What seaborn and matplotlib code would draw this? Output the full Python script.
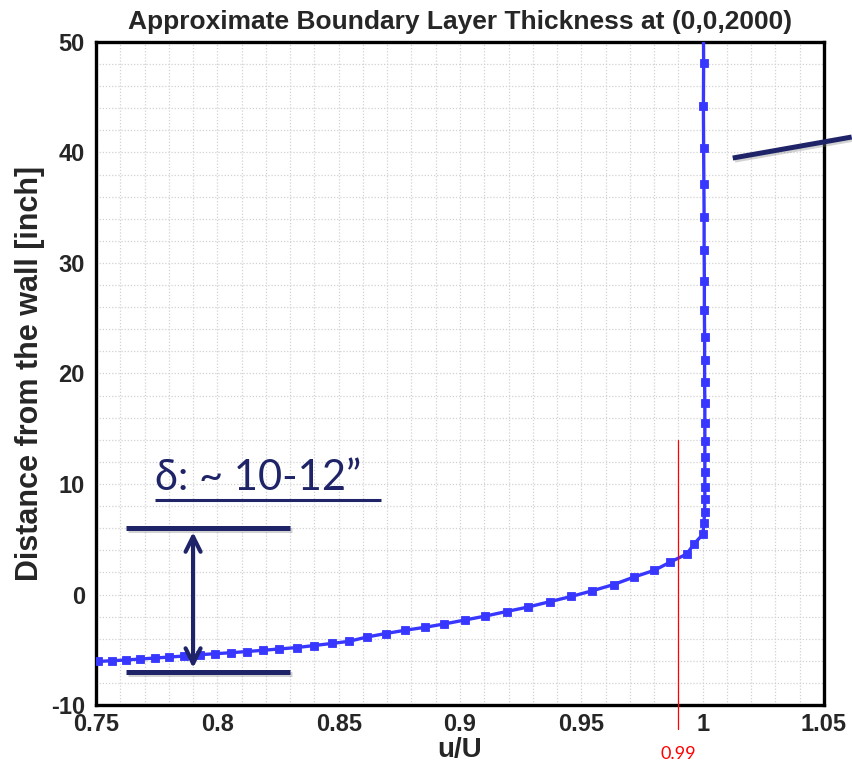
import numpy as np
import pandas as pd
import matplotlib
matplotlib.use("Agg")
import matplotlib.pyplot as plt
import matplotlib.patheffects as pe
from matplotlib.ticker import MultipleLocator
import seaborn as sns

# Velocity profile u/U vs. distance from the wall, ordered from the wall outwards
u_ratio = [0.7508, 0.7566, 0.7624, 0.7681, 0.7743, 0.7801, 0.7862, 0.7928,
           0.7990, 0.8056, 0.8122, 0.8188, 0.8254, 0.8328, 0.8398, 0.8472,
           0.8542, 0.8616, 0.8694, 0.8773, 0.8855, 0.8934, 0.9020, 0.9105,
           0.9192, 0.9281, 0.9370, 0.9458, 0.9546, 0.9633, 0.9717, 0.9801,
           0.9867, 0.9935, 0.9963, 1.0001, 1.0005, 1.0008, 1.0009, 1.0009,
           1.0009, 1.0009, 1.0009, 1.0009, 1.0009, 1.0008, 1.0008, 1.0008,
           1.0007, 1.0007, 1.0006, 1.0006, 1.0005, 1.0004, 1.0003, 1.0004,
           1.0003]
distance = [-6.06, -5.99, -5.93, -5.84, -5.75, -5.66, -5.57, -5.45,
            -5.36, -5.27, -5.16, -5.05, -4.93, -4.80, -4.62, -4.43,
            -4.24, -3.85, -3.53, -3.24, -2.97, -2.67, -2.31, -1.95,
            -1.54, -1.13, -0.65, -0.18, 0.34, 0.90, 1.58, 2.19,
            2.94, 3.67, 4.54, 5.45, 6.47, 7.44, 8.62, 9.76,
            11.06, 12.42, 13.92, 15.55, 17.36, 19.26, 21.22, 23.33,
            25.75, 28.37, 31.18, 34.16, 37.15, 40.41, 44.21, 48.10,
            51.90]

x_ticks = [0.75, 0.8, 0.85, 0.9, 0.95, 1.0, 1.05]
x_tick_labels = ["0.75", "0.8", "0.85", "0.9", "0.95", "1", "1.05"]
y_ticks = [-10, 0, 10, 20, 30, 40, 50]
y_tick_labels = ["-10", "0", "10", "20", "30", "40", "50"]

threshold = 0.99
delta_top = 6.0
delta_bottom = -7.0

profile = pd.DataFrame({"u/U": u_ratio, "distance": distance})

sns.set_theme(style="white")
plt.rcParams["font.family"] = ["Liberation Sans", "DejaVu Sans"]

fig = plt.figure(figsize=(8.52, 7.65), dpi=100)
ax = fig.add_axes([96 / 852, 1 - 705 / 765, 728 / 852, 663 / 765])

ax.set_xlim(0.75, 1.05)
ax.set_ylim(-10, 50)

# dotted grid on every minor division
ax.xaxis.set_minor_locator(MultipleLocator(0.01))
ax.yaxis.set_minor_locator(MultipleLocator(2))
ax.grid(True, which="both", color="#d2d2d2", linestyle=(0, (1, 1.5)),
        linewidth=0.9, zorder=0)

sns.lineplot(data=profile, x="u/U", y="distance", sort=False,
             estimator=None, ax=ax, color="#3737ff", linewidth=2.4,
             marker="s", markersize=5.5, markeredgewidth=0.6,
             markeredgecolor="#3737ff", zorder=3)

ax.set_xticks(x_ticks)
ax.set_xticklabels(x_tick_labels)
ax.set_yticks(y_ticks)
ax.set_yticklabels(y_tick_labels)

ax.tick_params(which="major", direction="in", length=11.5, width=2.2,
               color="black", labelsize=17)
ax.tick_params(axis="x", which="major", pad=6)
ax.tick_params(axis="y", which="major", pad=8)
ax.tick_params(which="minor", direction="in", length=6.5, width=1.1,
               color="#555555")
ax.tick_params(axis="x", which="both", top=False)
ax.tick_params(axis="y", which="both", right=False)
for lab in ax.get_xticklabels() + ax.get_yticklabels():
    lab.set_fontweight("bold")

for side in ["left", "right", "top", "bottom"]:
    ax.spines[side].set_visible(True)
    ax.spines[side].set_linewidth(2.4)
    ax.spines[side].set_color("black")

ax.set_xlabel("u/U", fontsize=20, fontweight="bold", va="center")
ax.xaxis.set_label_coords(0.5, -0.068)
ax.set_ylabel("Distance from the wall [inch]", fontsize=22,
              fontweight="bold", va="center")
ax.yaxis.set_label_coords(-0.090, 0.5)
ax.set_title("Approximate Boundary Layer Thickness at (0,0,2000)",
             fontsize=19, fontweight="bold", pad=9)

# 99% velocity marker
ax.plot([threshold, threshold], [14.0, -12.2], color="red", linewidth=0.9,
        clip_on=False, zorder=4)
ax.text(threshold, -14.4, "0.99", color="red", fontsize=13,
        family=["Lato", "DejaVu Sans"], ha="center", va="center",
        clip_on=False)

# boundary-layer thickness annotation
navy = "#1f2468"
shadow = [pe.SimpleLineShadow(offset=(1.5, -1.5), shadow_color="gray",
                              alpha=0.35), pe.Normal()]
for yy in (delta_top, delta_bottom):
    ax.plot([0.7624, 0.8299], [yy, yy], color=navy, linewidth=3.6,
            solid_capstyle="butt", path_effects=shadow, zorder=5)
ax.annotate("", xy=(0.79, delta_top - 0.35), xytext=(0.79, delta_bottom + 0.35),
            arrowprops=dict(arrowstyle="<->,head_length=0.9,head_width=0.45",
                            color=navy, linewidth=3.0, shrinkA=0, shrinkB=0),
            zorder=5)
ax.text(0.7743, 9.5, "δ: ~ 10-12”", color=navy, fontsize=30,
        family=["Lato", "DejaVu Sans"], ha="left", va="baseline", zorder=5)
ax.plot([0.7743, 0.8674], [8.55, 8.55], color=navy, linewidth=2.2,
        solid_capstyle="butt", zorder=5)

# leader line pointing to the free-stream region
ax.plot([1.0124, 1.0614], [39.5, 41.4], color=navy, linewidth=3.6,
        solid_capstyle="butt", clip_on=False, path_effects=shadow, zorder=5)

fig.savefig("out.png", dpi=100)
